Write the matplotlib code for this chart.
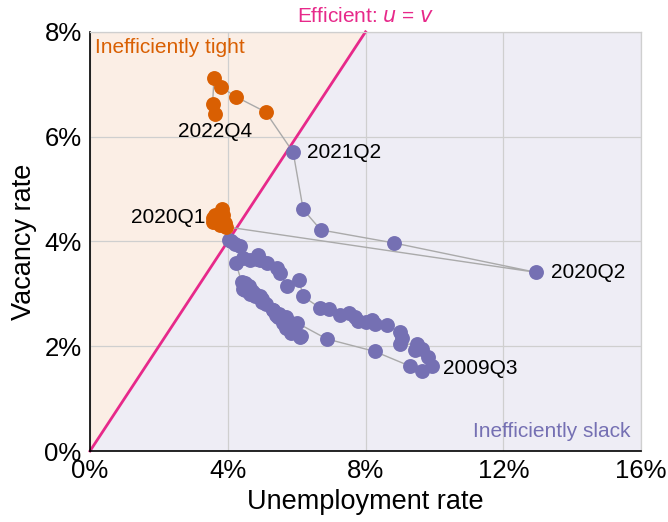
import matplotlib
matplotlib.use("Agg")
import matplotlib.pyplot as plt
import numpy as np

# quarterly data, 2001Q1 - 2022Q4 (percent)
years = list(range(2001, 2023))
quarters = [f"{y}Q{q}" for y in years for q in range(1, 5)]

unemployment = [
    4.24, 4.40, 4.80, 5.50,   # 2001
    5.70, 5.85, 5.75, 5.90,   # 2002
    5.85, 6.13, 6.10, 5.83,   # 2003
    5.70, 5.60, 5.45, 5.40,   # 2004
    5.30, 5.10, 5.00, 4.95,   # 2005
    4.70, 4.62, 4.62, 4.45,   # 2006
    4.50, 4.50, 4.65, 4.80,   # 2007
    5.00, 5.30, 6.00, 6.87,   # 2008
    8.27, 9.29, 9.63, 9.92,   # 2009
    9.82, 9.63, 9.43, 9.48,   # 2010
    9.00, 9.05, 9.00, 8.61,   # 2011
    8.27, 8.20, 8.00, 7.79,   # 2012
    7.69, 7.53, 7.26, 6.95,   # 2013
    6.68, 6.19, 6.07, 5.71,   # 2014
    5.52, 5.42, 5.13, 4.93,   # 2015
    4.89, 4.85, 4.64, 4.45,   # 2016
    4.35, 4.21, 4.10, 4.05,   # 2017
    3.92, 3.77, 3.58, 3.87,   # 2018
    3.63, 3.82, 3.58, 3.70,   # 2019
    3.95, 12.95, 8.83, 6.70,  # 2020
    6.19, 5.90, 5.10, 4.24,   # 2021
    3.80, 3.60, 3.56, 3.63,   # 2022
]

vacancy = [
    3.58, 3.23, 3.00, 2.62,   # 2001
    2.55, 2.45, 2.42, 2.40,   # 2002
    2.30, 2.20, 2.18, 2.25,   # 2003
    2.35, 2.45, 2.55, 2.60,   # 2004
    2.70, 2.80, 2.90, 2.95,   # 2005
    3.05, 3.10, 3.15, 3.10,   # 2006
    3.20, 3.07, 3.00, 2.95,   # 2007
    2.85, 2.70, 2.45, 2.14,   # 2008
    1.90, 1.62, 1.53, 1.62,   # 2009
    1.79, 1.95, 1.92, 2.04,   # 2010
    2.04, 2.15, 2.27, 2.40,   # 2011
    2.43, 2.50, 2.46, 2.49,   # 2012
    2.56, 2.64, 2.59, 2.71,   # 2013
    2.73, 2.95, 3.26, 3.15,   # 2014
    3.39, 3.49, 3.58, 3.65,   # 2015
    3.74, 3.66, 3.65, 3.68,   # 2016
    3.92, 3.96, 4.00, 4.02,   # 2017
    4.35, 4.32, 4.38, 4.50,   # 2018
    4.51, 4.61, 4.45, 4.40,   # 2019
    4.28, 3.41, 3.97, 4.22,   # 2020
    4.61, 5.70, 6.47, 6.76,   # 2021
    6.95, 7.11, 6.63, 6.44,   # 2022
]

# labelled quarters and where the text sits relative to the point (points)
labelled = {
    "2022Q4": ((0, -6), "center", "top"),
    "2021Q2": ((10, 0), "left", "center"),
    "2020Q1": ((-15, 7), "right", "center"),
    "2020Q2": ((11, 0), "left", "center"),
    "2009Q3": ((15, 2), "left", "center"),
}

orange = "#d95f02"
purple = "#7570b3"
pink = "#e7298a"

plt.rcParams["font.family"] = ["Liberation Sans", "DejaVu Sans"]

u = np.array(unemployment)
v = np.array(vacancy)

fig = plt.figure(figsize=(6.68, 5.22), dpi=100)
ax = fig.add_axes([0.1347, 0.136, 0.825, 0.803])

xmax, ymax = 16, 8
ax.set_xlim(0, xmax)
ax.set_ylim(0, ymax)

# shaded regions either side of u = v
ax.fill([0, 0, ymax], [0, ymax, ymax], color=orange, alpha=0.1, lw=0, zorder=0)
ax.fill([0, ymax, xmax, xmax], [0, ymax, ymax, 0], color=purple, alpha=0.12, lw=0, zorder=0)

ax.grid(True, color="#cfcfcf", lw=0.9, zorder=1)
ax.set_axisbelow(True)

ax.plot([0, ymax], [0, ymax], color=pink, lw=2, zorder=2, clip_on=False)
ax.annotate("Efficient: $u$ = $v$", (ymax, ymax), xytext=(0, 4),
            textcoords="offset points", color=pink, fontsize=15,
            ha="center", va="bottom", annotation_clip=False)

ax.plot(u, v, color="#aaaaaa", lw=1, zorder=3)
tight = v > u
ax.scatter(u[~tight], v[~tight], s=115, color=purple, zorder=4, lw=0)
ax.scatter(u[tight], v[tight], s=115, color=orange, zorder=4, lw=0)

for q, (off, ha, va) in labelled.items():
    i = quarters.index(q)
    ax.annotate(q, (u[i], v[i]), xytext=off, textcoords="offset points",
                ha=ha, va=va, fontsize=15, zorder=5)

ax.text(0.01, 0.985, "Inefficiently tight", color=orange, fontsize=15,
        ha="left", va="top", transform=ax.transAxes)
ax.text(0.98, 0.025, "Inefficiently slack", color=purple, fontsize=15,
        ha="right", va="bottom", transform=ax.transAxes)

ax.set_xticks(np.arange(0, xmax + 1, 4))
ax.set_yticks(np.arange(0, ymax + 1, 2))
ax.set_xticklabels([f"{t}%" for t in range(0, xmax + 1, 4)])
ax.set_yticklabels([f"{t}%" for t in range(0, ymax + 1, 2)])
ax.tick_params(length=0, labelsize=18.5, pad=6)

ax.set_xlabel("Unemployment rate", fontsize=19.5, labelpad=4)
ax.set_ylabel("Vacancy rate", fontsize=19.5, labelpad=5)

for side in ["left", "bottom"]:
    ax.spines[side].set_color("black")
    ax.spines[side].set_linewidth(1.2)
for side in ["top", "right"]:
    ax.spines[side].set_color("#cfcfcf")
    ax.spines[side].set_linewidth(0.9)

fig.savefig("out.png", dpi=100)
